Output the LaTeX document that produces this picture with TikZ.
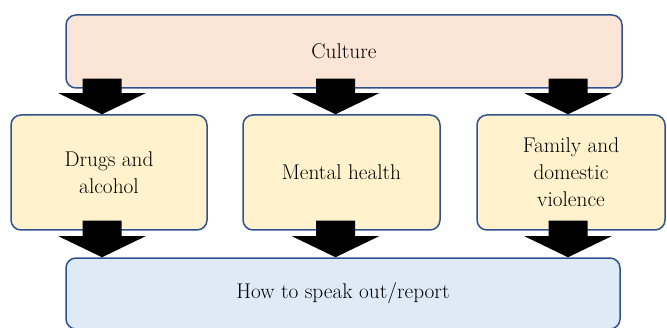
\documentclass[tikz,border=0pt]{standalone}
\usetikzlibrary{calc}
\definecolor{boxline}{HTML}{2F528F}
\definecolor{culturefill}{HTML}{FBE5D6}
\definecolor{themefill}{HTML}{FFF2CC}
\definecolor{reportfill}{HTML}{DEEBF7}
\tikzset{
  box/.style={draw=boxline, line width=1.5pt, rounded corners=10pt, align=center,
    inner sep=0pt, font=\fontsize{21.3}{27}\selectfont},
  topbox/.style={box, fill=culturefill, minimum width=556pt, minimum height=73pt},
  themebox/.style={box, fill=themefill, minimum height=115pt},
  reportbox/.style={box, fill=reportfill, minimum width=554pt, minimum height=71pt}
}
% block arrow: upper node, lower node, x position
\newcommand{\bigarrow}[3]{%
  \fill[black] let \p1=(#1.south), \p2=(#2.north) in
    (#3-19.5,\y1+10) -- (#3+19.5,\y1+10) -- (#3+19.5,\y2+21) -- (#3+43.5,\y2+21)
    -- (#3,\y2) -- (#3-43.5,\y2+21) -- (#3-19.5,\y2+21) -- cycle;
}

\begin{document}
\begin{tikzpicture}[x=1pt,y=1pt]
\useasboundingbox (0,0) rectangle (667,327);
\node[topbox] (culture) at (344,275.5) {Culture};
\node[themebox, minimum width=196pt] (drugs) at (109,154.5) {Drugs and\\alcohol};
\node[themebox, minimum width=197pt] (mental) at (341.5,154.5) {Mental health};
\node[themebox, minimum width=188pt] (family) at (571,154.5) {Family and\\domestic\\violence};
\node[reportbox] (report) at (343,33.5) {How to speak out/report};
% arrows from culture
\bigarrow{culture}{drugs}{102}
\bigarrow{culture}{mental}{335.5}
\bigarrow{culture}{family}{568}
% arrows to report
\bigarrow{drugs}{report}{102}
\bigarrow{mental}{report}{335.5}
\bigarrow{family}{report}{568}
\end{tikzpicture}
\end{document}
